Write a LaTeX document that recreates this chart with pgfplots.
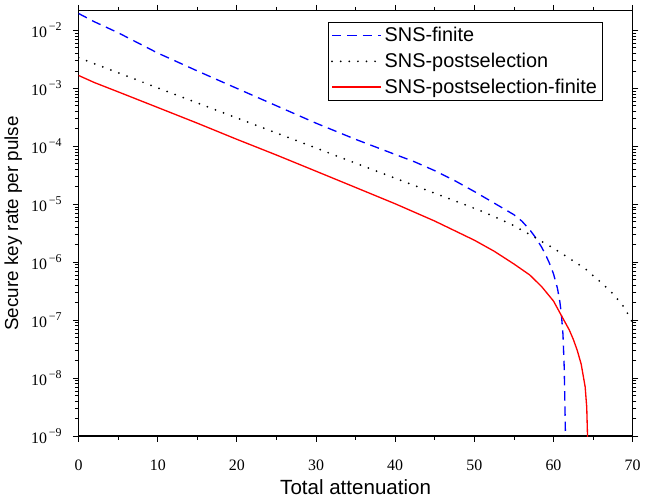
\documentclass[border=0pt]{standalone}
\usepackage{fontspec}
\setmainfont{Liberation Serif}
\setsansfont{Liberation Sans}
\usepackage{pgfplots}
\pgfplotsset{compat=1.18}

\newcommand{\dec}[1]{10\raisebox{0.42em}{\fontsize{9}{9}\selectfont\,#1}}

\begin{document}
\begin{tikzpicture}
\begin{axis}[
    scale only axis,
    width=418pt, height=321pt,
    ymode=log,
    xmin=0, xmax=70,
    ymin=1e-9, ymax=0.022,
    xtick={0,10,...,70},
    minor x tick num=1,
    ytick={1e-9,1e-8,1e-7,1e-6,1e-5,1e-4,1e-3,1e-2},
    yticklabels={\dec{−9},\dec{−8},\dec{−7},\dec{−6},\dec{−5},\dec{−4},\dec{−3},\dec{−2}},
    tick align=outside,
    axis line style={line width=1pt},
    major tick style={line width=0.8pt, black},
    minor tick style={line width=0.6pt, black},
    ticklabel style={font=\fontsize{12}{13}\selectfont},
    xticklabel style={/pgf/number format/assume math mode=true, yshift=-10pt},
    yticklabel style={xshift=-5pt},
    xlabel style={font=\sffamily\fontsize{15.5}{17}\selectfont},
    ylabel style={font=\sffamily\fontsize{14.2}{16}\selectfont},
    xlabel={Total attenuation},
    ylabel={Secure key rate per pulse},
    legend cell align=left,
    legend style={at={(0.946,0.974)}, anchor=north east, draw=black, line width=0.8pt,
        font=\sffamily\fontsize{15}{17}\selectfont, row sep=3pt, inner sep=2pt},
    legend image code/.code={\draw[#1] plot coordinates {(0pt,0pt) (37pt,0pt)};},
]
\addplot[color=blue, line width=1pt, dash pattern=on 7pt off 4.5pt] coordinates {
(0,1.96e-2)(2,1.41e-2)(5,9.12e-3)(10,4.07e-3)(15,2.00e-3)(20,1.00e-3)
(25,5.01e-4)(30,2.51e-4)(35,1.32e-4)(40,7.24e-5)(42.5,5.37e-5)(45,3.80e-5)
(47.5,2.57e-5)(50,1.66e-5)(52.5,1.05e-5)(55,6.61e-6)(56,5.13e-6)(57,3.63e-6)
(57.5,2.95e-6)(58,2.34e-6)(58.5,1.82e-6)(59,1.35e-6)(59.5,9.55e-7)(60,6.31e-7)
(60.5,3.55e-7)(60.8,2.09e-7)(61,1.26e-7)(61.2,5.62e-8)(61.35,1.58e-8)
(61.45,3.16e-9)(61.55,5.0e-10)};
\addlegendentry{SNS-finite}
\addplot[color=black, line width=1.5pt, line cap=round, dash pattern=on 0pt off 6.5pt] coordinates {
(0,3.39e-3)(10,1.02e-3)(20,3.09e-4)(30,9.33e-5)(40,2.82e-5)(45,1.55e-5)
(50,8.51e-6)(52.5,6.17e-6)(55,4.27e-6)(57.5,2.75e-6)(60,1.74e-6)(62,1.17e-6)
(64,7.76e-7)(66,4.47e-7)(67.5,2.88e-7)(69,1.62e-7)(70,8.91e-8)};
\addlegendentry{SNS-postselection}
\addplot[color=red, line width=1pt] coordinates {
(0,1.67e-3)(2,1.26e-3)(5,8.71e-4)(10,4.68e-4)(15,2.51e-4)(20,1.32e-4)
(25,7.08e-5)(30,3.72e-5)(35,1.95e-5)(40,1.02e-5)(45,5.13e-6)(50,2.40e-6)
(52.5,1.55e-6)(55,9.33e-7)(57,6.03e-7)(58.5,3.80e-7)(60,2.14e-7)(61,1.20e-7)
(62,6.76e-8)(62.5,4.68e-8)(63,3.02e-8)(63.5,1.74e-8)(64,7.08e-9)(64.2,3.16e-9)
(64.3,1.0e-9)(64.35,5.0e-10)};
\addlegendentry{SNS-postselection-finite}
\end{axis}
\path ([yshift=8pt]current axis.north);
\end{tikzpicture}
\end{document}
